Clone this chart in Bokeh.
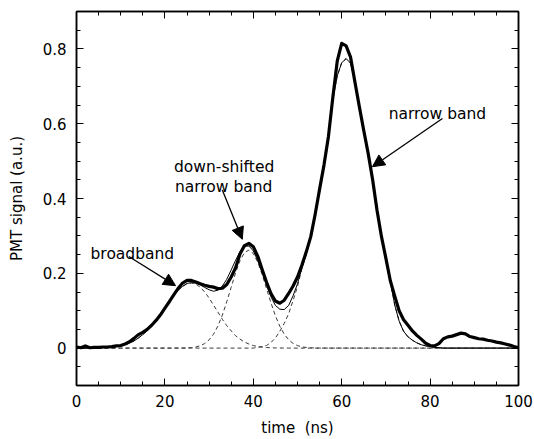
from bokeh.plotting import figure
from bokeh.models import (Range1d, LinearAxis, FixedTicker, CustomJSTickFormatter,
                          Label, Arrow, NormalHead, ColumnDataSource)
from bokeh.embed import file_html
from bokeh.resources import INLINE

# ---------------- data ----------------
time_ns = list(range(0, 101))

measured = [0.003, 0.001, 0.006, 0.001, 0.002, 0.002, 0.003, 0.003, 0.004, 0.006,
            0.007, 0.011, 0.017, 0.026, 0.036, 0.042, 0.050, 0.061, 0.074, 0.089,
            0.107, 0.124, 0.142, 0.160, 0.174, 0.181, 0.181, 0.177, 0.172, 0.168,
            0.165, 0.163, 0.159, 0.160, 0.170, 0.190, 0.215, 0.252, 0.274, 0.280,
            0.271, 0.246, 0.210, 0.176, 0.146, 0.126, 0.120, 0.128, 0.146, 0.166,
            0.190, 0.222, 0.258, 0.298, 0.358, 0.425, 0.490, 0.566, 0.671, 0.768,
            0.815, 0.808, 0.778, 0.711, 0.645, 0.581, 0.520, 0.450, 0.368, 0.298,
            0.240, 0.180, 0.139, 0.100, 0.076, 0.061, 0.046, 0.034, 0.024, 0.013,
            0.007, 0.006, 0.012, 0.025, 0.030, 0.032, 0.036, 0.040, 0.038, 0.031,
            0.028, 0.025, 0.024, 0.021, 0.019, 0.016, 0.014, 0.011, 0.008, 0.004,
            0.001]

fit_total = [0.0, 0.0, 0.0001, 0.0002, 0.0003, 0.0006, 0.001, 0.0016, 0.0026, 0.0041,
             0.0062, 0.0093, 0.0136, 0.019, 0.027, 0.036, 0.047, 0.061, 0.076, 0.092,
             0.109, 0.126, 0.141, 0.155, 0.165, 0.173, 0.175, 0.174, 0.169, 0.162,
             0.156, 0.152, 0.155, 0.166, 0.184, 0.209, 0.235, 0.258, 0.272, 0.273,
             0.260, 0.234, 0.203, 0.168, 0.137, 0.114, 0.104, 0.103, 0.114, 0.140,
             0.172, 0.215, 0.252, 0.296, 0.355, 0.428, 0.490, 0.570, 0.665, 0.728,
             0.763, 0.774, 0.762, 0.713, 0.645, 0.580, 0.515, 0.448, 0.372, 0.300,
             0.238, 0.178, 0.115, 0.072, 0.045, 0.030, 0.021, 0.014, 0.009, 0.006,
             0.004, 0.002, 0.001, 0.0, 0.0, 0.0, 0.0, 0.0, 0.0, 0.0,
             0.0, 0.0, 0.0, 0.0, 0.0, 0.0, 0.0, 0.0, 0.0, 0.0,
             0.0]

broadband = ([0.0, 0.0, 0.0001, 0.0002, 0.0003, 0.0006, 0.001, 0.0016, 0.0026, 0.0041,
              0.0062, 0.0093, 0.0136, 0.019, 0.027, 0.036, 0.047, 0.061, 0.076, 0.092,
              0.109, 0.126, 0.141, 0.155, 0.165, 0.172, 0.174, 0.171, 0.163, 0.150,
              0.134, 0.115, 0.096, 0.077, 0.060, 0.046, 0.033, 0.024, 0.016, 0.011,
              0.0068, 0.0042, 0.0025, 0.0015, 0.0008, 0.0004, 0.0002, 0.0001, 0.0, 0.0]
             + [0.0] * 51)

downshifted = ([0.0] * 20
               + [0.0, 0.0, 0.0, 0.0001, 0.0002, 0.0006, 0.0014, 0.0031, 0.0064, 0.0122,
                  0.022, 0.0373, 0.0592, 0.0883, 0.124, 0.163, 0.2015, 0.234, 0.2555, 0.262,
                  0.2527, 0.2298, 0.1968, 0.1589, 0.1208, 0.0866, 0.0585, 0.0372, 0.0223, 0.0126,
                  0.0067, 0.0034, 0.0016, 0.0007, 0.0003, 0.0001, 0.0, 0.0, 0.0, 0.0]
               + [0.0] * 41)

narrowband = ([0.0] * 40
              + [0.0, 0.002, 0.004, 0.007, 0.015, 0.027, 0.045, 0.066, 0.092, 0.127,
                 0.165, 0.212, 0.250, 0.295, 0.355, 0.428, 0.490, 0.570, 0.665, 0.728,
                 0.763, 0.774, 0.762, 0.713, 0.645, 0.580, 0.515, 0.448, 0.372, 0.300,
                 0.238, 0.178, 0.115, 0.072, 0.045, 0.030, 0.021, 0.014, 0.009, 0.006,
                 0.004, 0.002, 0.001, 0.0, 0.0, 0.0, 0.0, 0.0, 0.0, 0.0]
              + [0.0] * 11)

x_major = [0, 20, 40, 60, 80, 100]
x_minor = [0, 5, 10, 15, 20, 25, 30, 35, 40, 45, 50, 55, 60, 65, 70, 75, 80, 85, 90, 95, 100]
y_major = [0, 0.2, 0.4, 0.6, 0.8]
y_minor = [-0.1, -0.05, 0.05, 0.1, 0.15, 0.25, 0.3, 0.35, 0.45, 0.5, 0.55,
           0.65, 0.7, 0.75, 0.85, 0.9]

FONT = "DejaVu Sans"

p = figure(width=534, height=439, output_backend="svg", toolbar_location=None,
           x_range=Range1d(0, 100), y_range=Range1d(-0.1, 0.9),
           min_border_left=76, min_border_right=16, min_border_top=11, min_border_bottom=53,
           x_axis_label="time\u00a0\u00a0(ns)", y_axis_label="PMT signal (a.u.)")
p.grid.visible = False
p.outline_line_color = "black"
p.outline_line_width = 1.5
p.background_fill_color = "white"
p.border_fill_color = "white"

xt = FixedTicker(ticks=x_major, minor_ticks=x_minor)
yt = FixedTicker(ticks=y_major, minor_ticks=y_minor)


def style(ax):
    ax.major_tick_in = 7
    ax.major_tick_out = 0
    ax.minor_tick_in = 4
    ax.minor_tick_out = 0
    ax.axis_line_width = 1.5
    ax.axis_line_color = "black"
    ax.major_tick_line_color = "black"
    ax.minor_tick_line_color = "black"
    ax.major_label_text_font = FONT
    ax.major_label_text_font_size = "15px"
    ax.major_label_text_color = "black"
    ax.axis_label_text_font = FONT
    ax.axis_label_text_font_size = "15px"
    ax.axis_label_text_font_style = "normal"
    ax.axis_label_text_color = "black"


xa = p.xaxis[0]
ya = p.yaxis[0]
xa.ticker = xt
ya.ticker = yt
style(xa)
style(ya)
xa.major_label_standoff = 9
xa.axis_label_standoff = 9
ya.major_label_standoff = 10
ya.axis_label_standoff = 14
ya.formatter = CustomJSTickFormatter(
    code="return Math.abs(tick) < 1e-9 ? '0' : tick.toFixed(1);")

empty = "return '';"
top = LinearAxis(ticker=xt, formatter=CustomJSTickFormatter(code=empty))
right = LinearAxis(ticker=yt, formatter=CustomJSTickFormatter(code=empty))
for ax in (top, right):
    style(ax)
    ax.major_label_text_font_size = "0px"
    ax.major_label_standoff = 0
p.add_layout(top, "above")
p.add_layout(right, "right")

src = ColumnDataSource(dict(t=time_ns, measured=measured, fit=fit_total,
                            bb=broadband, ds=downshifted, nb=narrowband))

for col in ("bb", "ds", "nb"):
    p.line("t", col, source=src, line_color="#3a3a3a", line_width=1, line_dash="4 3")
p.line("t", "fit", source=src, line_color="black", line_width=1)
p.line("t", "measured", source=src, line_color="black", line_width=3.2,
       line_join="round", line_cap="round")

# annotations
lab_kw = dict(text_font=FONT, text_font_size="15.5px", text_color="black",
              text_baseline="alphabetic")
p.add_layout(Label(x=3.17, y=0.252, text="broadband", text_align="left", **lab_kw))
p.add_layout(Label(x=33.4, y=0.485, text="down-shifted", text_align="center", **lab_kw))
p.add_layout(Label(x=33.3, y=0.4315, text="narrow band", text_align="center", **lab_kw))
p.add_layout(Label(x=81.66, y=0.6253, text="narrow band", text_align="center", **lab_kw))

arrows = [((11.84, 0.245), (22.41, 0.167)),
          ((32.99, 0.4227), (37.51, 0.291)),
          ((82.79, 0.614), (66.95, 0.485))]
for (xs, ys), (xe, ye) in arrows:
    p.add_layout(Arrow(end=NormalHead(size=12, fill_color="black", line_color="black",
                                      line_width=1),
                       x_start=xs, y_start=ys, x_end=xe, y_end=ye,
                       line_width=1.3, line_color="black"))

open("out.html", "w").write(file_html(p, INLINE))
